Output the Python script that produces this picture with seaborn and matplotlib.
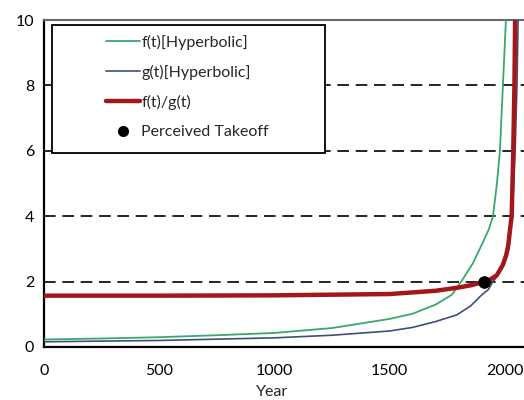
import matplotlib
matplotlib.use("Agg")
import matplotlib.pyplot as plt
from matplotlib.patches import Rectangle
from matplotlib.lines import Line2D
import seaborn as sns
import pandas as pd

# values
year_f = [0, 250, 500, 750, 1000, 1250, 1500, 1600, 1700, 1770, 1810, 1860, 1904, 1930, 1948, 1965, 1978, 1991, 2004]
f_vals = [0.23, 0.26, 0.30, 0.36, 0.43, 0.58, 0.86, 1.02, 1.3, 1.6, 2.0, 2.55, 3.2, 3.6, 4.0, 5.0, 6.0, 8.0, 10.0]

year_g = [0, 250, 500, 750, 1000, 1250, 1500, 1600, 1700, 1790, 1850, 1900, 1927, 1948, 1965, 1990, 2015, 2032, 2044, 2052, 2057]
g_vals = [0.16, 0.18, 0.20, 0.24, 0.28, 0.36, 0.49, 0.6, 0.78, 0.98, 1.25, 1.6, 1.75, 2.0, 2.15, 2.45, 2.95, 4.0, 6.0, 8.0, 10.0]

year_r = [0, 500, 1000, 1500, 1700, 1800, 1860, 1910, 1940, 1965, 1990, 2005, 2014, 2022, 2029, 2036, 2041, 2044]
r_vals = [1.57, 1.57, 1.58, 1.62, 1.72, 1.82, 1.9, 2.0, 2.08, 2.2, 2.5, 2.8, 3.1, 3.6, 4.0, 6.0, 8.0, 10.0]

takeoff_year = [1910]
takeoff_val = [2.0]

grid_levels = [2, 4, 6, 8]
yticks = [0, 2, 4, 6, 8, 10]
xticks = [0, 500, 1000, 1500, 2000]

sns.set_style("white")
plt.rcParams['font.family'] = ['Lato', 'DejaVu Sans']

fig = plt.figure(figsize=(5.24, 4.0), dpi=100)
ax = fig.add_axes([0.084, 0.1325, 0.9237, 0.8175])

for lv in grid_levels:
    ax.axhline(lv, color='black', lw=1.2, ls=(0, (7, 4)), zorder=1)

green = '#3aa76d'
blue = '#3e5079'
red = '#a3171b'

sns.lineplot(x=year_f, y=f_vals, color=green, lw=1.3, ax=ax, zorder=3)
sns.lineplot(x=year_g, y=g_vals, color=blue, lw=1.2, ax=ax, zorder=3)
sns.lineplot(x=year_r, y=r_vals, color=red, lw=3.2, ax=ax, zorder=4)
sns.scatterplot(x=takeoff_year, y=takeoff_val, color='black', s=70, ax=ax, zorder=5, edgecolor='black')

ax.set_xlim(0, 2100)
ax.set_ylim(0, 10)
ax.set_xticks(xticks)
ax.set_yticks(yticks)
ax.tick_params(axis='both', direction='out', length=5, width=1.3, colors='black', labelsize=11.5)
ax.tick_params(axis='x', pad=7)
ax.tick_params(axis='y', pad=2)

for side in ['left', 'bottom']:
    ax.spines[side].set_color('black')
    ax.spines[side].set_linewidth(1.6)
ax.spines['top'].set_color('#666666')
ax.spines['top'].set_linewidth(1.5)
ax.spines['right'].set_visible(False)

ax.set_xlabel('Year', fontsize=11.5)
ax.xaxis.set_label_coords(0.471, -0.115)
ax.set_ylabel('')

# legend box
box = Rectangle((0.0165, 0.594), 0.564, 0.391, transform=ax.transAxes,
                facecolor='white', edgecolor='black', lw=1.3, zorder=6)
ax.add_patch(box)

handles = [
    Line2D([], [], color=green, lw=1.3),
    Line2D([], [], color=blue, lw=1.2),
    Line2D([], [], color=red, lw=3.2),
    Line2D([], [], color='black', marker='o', ls='none', markersize=7),
]
labels = ['f(t)[Hyperbolic]', 'g(t)[Hyperbolic]', 'f(t)/g(t)', 'Perceived Takeoff']
leg = ax.legend(handles, labels, loc='upper left', bbox_to_anchor=(0.105, 0.99),
                frameon=False, fontsize=11.5, handlelength=2.1, handletextpad=0.1,
                labelspacing=0.95, borderaxespad=0.3)
leg.set_zorder(7)

fig.savefig('out.png', dpi=100)
